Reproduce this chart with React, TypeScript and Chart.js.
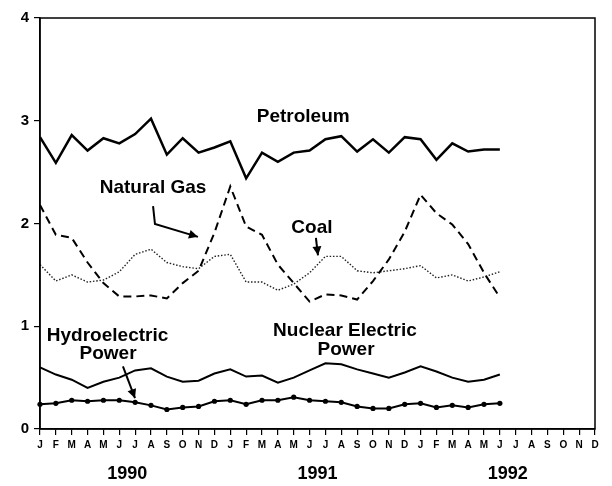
import React, { useEffect, useRef } from "react";
import { Chart, registerables } from "chart.js";

Chart.register(...registerables);

const monthLetters = ["J", "F", "M", "A", "M", "J", "J", "A", "S", "O", "N", "D"];
const categories = [...monthLetters, ...monthLetters, ...monthLetters];
const yearLabels = ["1990", "1991", "1992"];
const yTicks = [0, 1, 2, 3, 4];

const petroleum = [2.84, 2.59, 2.86, 2.71, 2.83, 2.78, 2.87, 3.02, 2.67, 2.83, 2.69, 2.74, 2.8, 2.44, 2.69, 2.6, 2.69, 2.71, 2.82, 2.85, 2.7, 2.82, 2.69, 2.84, 2.82, 2.62, 2.78, 2.7, 2.72, 2.72];
const naturalGas = [2.18, 1.89, 1.86, 1.62, 1.42, 1.29, 1.29, 1.3, 1.27, 1.42, 1.54, 1.91, 2.36, 1.97, 1.89, 1.6, 1.42, 1.24, 1.31, 1.3, 1.26, 1.44, 1.65, 1.92, 2.28, 2.1, 1.99, 1.8, 1.52, 1.28];
const coal = [1.6, 1.44, 1.5, 1.43, 1.45, 1.53, 1.7, 1.75, 1.62, 1.58, 1.56, 1.68, 1.7, 1.43, 1.43, 1.35, 1.41, 1.52, 1.68, 1.68, 1.54, 1.52, 1.54, 1.56, 1.59, 1.47, 1.5, 1.44, 1.48, 1.53];
const nuclear = [0.6, 0.53, 0.48, 0.4, 0.46, 0.5, 0.57, 0.59, 0.51, 0.46, 0.47, 0.54, 0.58, 0.51, 0.52, 0.45, 0.5, 0.57, 0.64, 0.63, 0.58, 0.54, 0.5, 0.55, 0.61, 0.56, 0.5, 0.46, 0.48, 0.53];
const hydro = [0.24, 0.25, 0.28, 0.27, 0.28, 0.28, 0.26, 0.23, 0.19, 0.21, 0.22, 0.27, 0.28, 0.24, 0.28, 0.28, 0.31, 0.28, 0.27, 0.26, 0.22, 0.2, 0.2, 0.24, 0.25, 0.21, 0.23, 0.21, 0.24, 0.25];

// annotation labels: [text, x index, y value]
const labelTexts = ["Petroleum", "Natural Gas", "Coal", "Hydroelectric", "Power", "Nuclear Electric", "Power"];
const labelX = [16.6, 7.13, 17.15, 4.26, 4.29, 19.23, 19.3];
const labelY = [3.04, 2.35, 1.96, 0.905, 0.73, 0.954, 0.77];

// arrows: polylines in (index, value)
const gasArrowX = [7.13, 7.25, 9.96];
const gasArrowY = [2.17, 1.995, 1.87];
const coalArrowX = [17.4, 17.53];
const coalArrowY = [1.86, 1.69];
const hydroArrowX = [5.23, 5.99];
const hydroArrowY = [0.61, 0.3];

const FONT = "'Liberation Sans', Arial, Helvetica, sans-serif";

function drawArrow(ctx: CanvasRenderingContext2D, pts: [number, number][]) {
  ctx.save();
  ctx.strokeStyle = "#000";
  ctx.fillStyle = "#000";
  ctx.lineWidth = 2;
  ctx.beginPath();
  ctx.moveTo(pts[0][0], pts[0][1]);
  for (let i = 1; i < pts.length; i++) ctx.lineTo(pts[i][0], pts[i][1]);
  ctx.stroke();
  const [x1, y1] = pts[pts.length - 2];
  const [x2, y2] = pts[pts.length - 1];
  const ang = Math.atan2(y2 - y1, x2 - x1);
  const L = 9, W = 4.5;
  ctx.beginPath();
  ctx.moveTo(x2, y2);
  ctx.lineTo(x2 - L * Math.cos(ang) + W * Math.sin(ang), y2 - L * Math.sin(ang) - W * Math.cos(ang));
  ctx.lineTo(x2 - L * Math.cos(ang) - W * Math.sin(ang), y2 - L * Math.sin(ang) + W * Math.cos(ang));
  ctx.closePath();
  ctx.fill();
  ctx.restore();
}

const decorPlugin = {
  id: "decor",
  afterDraw(chart: any) {
    const ctx: CanvasRenderingContext2D = chart.ctx;
    const xs = chart.scales.x;
    const ys = chart.scales.y;
    const area = chart.chartArea;
    ctx.save();
    // frame
    ctx.strokeStyle = "#000";
    ctx.lineWidth = 1.5;
    ctx.strokeRect(area.left, area.top, area.right - area.left, area.bottom - area.top);
    // labels
    ctx.fillStyle = "#000";
    ctx.textAlign = "center";
    ctx.textBaseline = "middle";
    ctx.font = `bold 19px ${FONT}`;
    for (let i = 0; i < labelTexts.length; i++) {
      ctx.fillText(labelTexts[i], xs.getPixelForValue(labelX[i]), ys.getPixelForValue(labelY[i]));
    }
    // years
    ctx.font = `bold 18px ${FONT}`;
    for (let i = 0; i < yearLabels.length; i++) {
      ctx.fillText(yearLabels[i], xs.getPixelForValue(5.5 + 12 * i), area.bottom + 45);
    }
    ctx.restore();
    const toPts = (ax: number[], ay: number[]) =>
      ax.map((v, i) => [xs.getPixelForValue(v), ys.getPixelForValue(ay[i])] as [number, number]);
    drawArrow(ctx, toPts(gasArrowX, gasArrowY));
    drawArrow(ctx, toPts(coalArrowX, coalArrowY));
    drawArrow(ctx, toPts(hydroArrowX, hydroArrowY));
  },
};

export default function App() {
  const ref = useRef<HTMLCanvasElement | null>(null);
  useEffect(() => {
    document.body.style.margin = "0";
    const canvas = ref.current;
    if (!canvas) return;
    const chart = new Chart(canvas, {
      type: "line",
      data: {
        labels: categories,
        datasets: [
          { label: "Petroleum", data: petroleum, borderColor: "#000", borderWidth: 2.5, pointRadius: 0, tension: 0 },
          { label: "Natural Gas", data: naturalGas, borderColor: "#000", borderWidth: 2, borderDash: [8, 5], pointRadius: 0, tension: 0 },
          { label: "Coal", data: coal, borderColor: "#222", borderWidth: 1.4, borderDash: [1.5, 1.8], pointRadius: 0, tension: 0 },
          { label: "Nuclear Electric Power", data: nuclear, borderColor: "#000", borderWidth: 2, pointRadius: 0, tension: 0 },
          { label: "Hydroelectric Power", data: hydro, borderColor: "#000", borderWidth: 2, pointRadius: 2.6, pointBackgroundColor: "#000", pointBorderColor: "#000", pointBorderWidth: 0, tension: 0 },
        ],
      },
      options: {
        animation: false,
        responsive: false,
        devicePixelRatio: 1,
        layout: { padding: { top: 18, right: 17, left: 0, bottom: 0 } },
        plugins: { legend: { display: false }, tooltip: { enabled: false } },
        scales: {
          x: {
            type: "category",
            offset: false,
            afterFit: (s: any) => { s.height = 57; },
            grid: { drawOnChartArea: false, drawTicks: true, tickLength: 6, color: "#000", lineWidth: 1.2 },
            border: { display: true, color: "#000", width: 1.5 },
            ticks: { autoSkip: false, maxRotation: 0, minRotation: 0, padding: 4, color: "#000", font: { family: FONT, size: 10, weight: "bold" } },
          },
          y: {
            min: 0,
            max: 4,
            afterFit: (s: any) => { s.width = 40; },
            afterBuildTicks: (s: any) => { s.ticks = yTicks.map((v) => ({ value: v })); },
            grid: { drawOnChartArea: false, drawTicks: true, tickLength: 6, color: "#000", lineWidth: 1.2 },
            border: { display: true, color: "#000", width: 1.5 },
            ticks: { padding: 5, color: "#000", font: { family: FONT, size: 15, weight: "bold" } },
          },
        },
      },
      plugins: [decorPlugin],
    });
    return () => chart.destroy();
  }, []);
  return <canvas ref={ref} width={612} height={486} style={{ display: "block", width: 612, height: 486 }} />;
}
